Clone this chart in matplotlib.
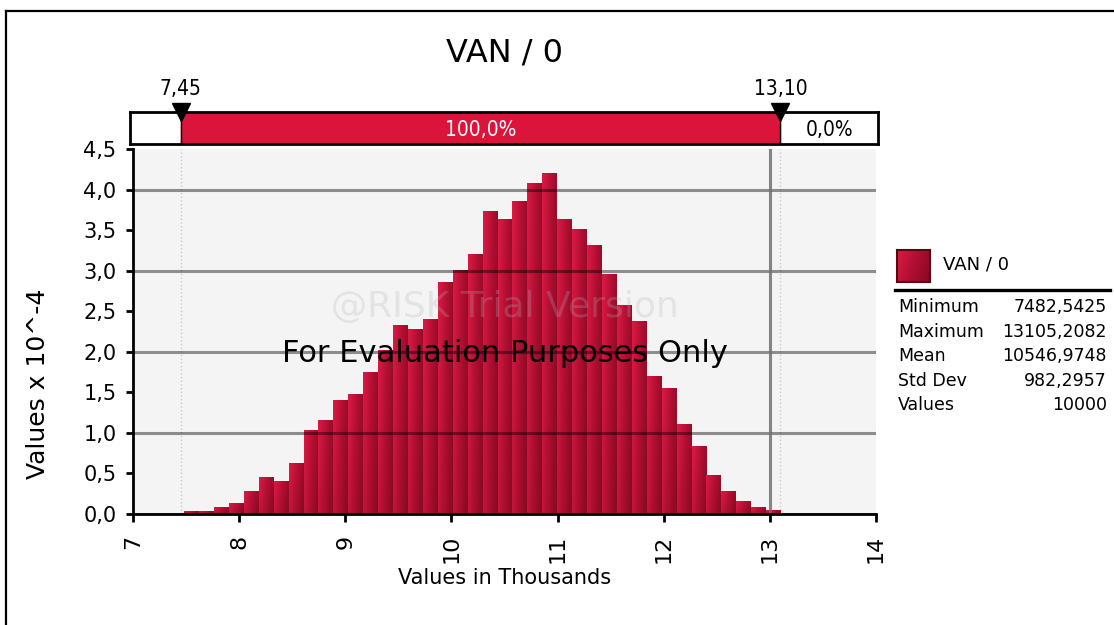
import numpy as np
import matplotlib
matplotlib.use('Agg')
import matplotlib.pyplot as plt
from matplotlib.lines import Line2D
from matplotlib.colors import LinearSegmentedColormap
from matplotlib import font_manager

# simulation summary, values in thousands
sim_min = 7.4825425
sim_max = 13.1052082
n_bins = 40
# bar heights, x 10^-4
density = [0.037, 0.037, 0.090, 0.139, 0.282, 0.454, 0.405, 0.626, 1.031, 1.153,
           1.411, 1.485, 1.755, 2.020, 2.331, 2.282, 2.405, 2.859, 3.006, 3.202,
           3.730, 3.632, 3.853, 4.086, 4.209, 3.632, 3.509, 3.313, 2.957, 2.577,
           2.380, 1.706, 1.558, 1.104, 0.834, 0.479, 0.282, 0.160, 0.086, 0.049]

left_cut = 7.45
right_cut = 13.10
mid_pct = '100,0%'
right_pct = '0,0%'
ref_line = 13.0

x_ticks = [7, 8, 9, 10, 11, 12, 13, 14]
y_ticks = [0, 0.5, 1.0, 1.5, 2.0, 2.5, 3.0, 3.5, 4.0, 4.5]

stat_names = ['Minimum', 'Maximum', 'Mean', 'Std Dev', 'Values']
stat_values = ['7482,5425', '13105,2082', '10546,9748', '982,2957', '10000']

W, H = 1114, 625

names = {f.name for f in font_manager.fontManager.ttflist}
narrow = 'Liberation Sans Narrow' if 'Liberation Sans Narrow' in names else 'DejaVu Sans'

red_cmap = LinearSegmentedColormap.from_list('bars', ['#dc1a44', '#b00f32', '#860a22'])
u, v = np.meshgrid(np.linspace(0, 1, 24), np.linspace(0, 1, 24))
grad = 0.75 * u + 0.25 * (1 - v)


def comma(val, nd):
    return f'{val:.{nd}f}'.replace('.', ',')


fig = plt.figure(figsize=(W / 100, H / 100), dpi=100)
fig.patch.set_facecolor('white')

# main histogram
ax = fig.add_axes([133 / W, 111 / H, 743 / W, 365 / H])
ax.set_facecolor('#f4f4f4')
edges = np.linspace(sim_min, sim_max, n_bins + 1)
bars = ax.bar(edges[:-1], density, width=np.diff(edges), align='edge',
              color='none', edgecolor='none', zorder=2)
for b, h in zip(bars, density):
    x0 = b.get_x()
    im = ax.imshow(grad, cmap=red_cmap, origin='lower', aspect='auto',
                   extent=[x0, x0 + b.get_width(), 0, h], zorder=2, vmin=0, vmax=1)
    im.set_clip_path(b)

for y in [0, 1, 2, 3, 4]:
    ax.axhline(y, color='black', alpha=0.42, lw=2.2, zorder=4)
ax.axvline(ref_line, color='#707070', alpha=0.85, lw=2.2, zorder=4)
for c in [left_cut, right_cut]:
    ax.axvline(c, color='#c8c8c8', lw=1, ls=':', zorder=1)

ax.set_xlim(7, 14)
ax.set_ylim(0, 4.5)
ax.set_xticks(x_ticks)
ax.set_xticklabels([str(t) for t in x_ticks], rotation=90, fontsize=16)
ax.set_yticks(y_ticks)
ax.set_yticklabels([comma(t, 1) for t in y_ticks], fontsize=15)
ax.tick_params(axis='x', direction='out', length=6, width=2, pad=9)
ax.tick_params(axis='y', direction='out', length=5, width=2, pad=7)
for s in ['top', 'right']:
    ax.spines[s].set_visible(False)
for s in ['left', 'bottom']:
    ax.spines[s].set_linewidth(2)
    ax.spines[s].set_zorder(6)

ax.set_xlabel('Values in Thousands', fontsize=15)
ax.xaxis.set_label_coords(0.5, -0.175)
ax.xaxis.label.set_va('center')
ax.set_ylabel('Values x 10^-4', fontsize=18)
ax.yaxis.set_label_coords(-0.128, 0.358)
ax.yaxis.label.set_va('center')

ax.text(0.5, 0.567, '@RISK Trial Version', transform=ax.transAxes, fontsize=26,
        color='#b4b4b4', alpha=0.25, ha='center', va='center', zorder=7)
ax.text(0.5, 0.441, 'For Evaluation Purposes Only', transform=ax.transAxes,
        fontsize=22, color='black', ha='center', va='center', zorder=8)

# delimiter bar on top
bax = fig.add_axes([130 / W, 481 / H, 748 / W, 32 / H])
bx0, bx1 = 6.9717, 14.019
bax.set_xlim(bx0, bx1)
bax.set_ylim(0, 1)
bax.set_xticks([])
bax.set_yticks([])
bax.axvspan(left_cut, right_cut, color='#dc143c')
for c in [left_cut, right_cut]:
    bax.axvline(c, color='black', lw=1)
for s in bax.spines.values():
    s.set_linewidth(2)
bax.text((left_cut + right_cut) / 2, 0.45, mid_pct, color='white', fontsize=15,
         family=narrow, stretch='condensed', ha='center', va='center')
bax.text((right_cut + bx1) / 2, 0.45, right_pct, color='black', fontsize=15,
         family=narrow, stretch='condensed', ha='center', va='center')
bax.plot([left_cut, right_cut], [1, 1], ls='none', marker='v', ms=13,
         color='black', clip_on=False, zorder=5)
for c in [left_cut, right_cut]:
    bax.text(c, 1.72, comma(c, 2), fontsize=15, family=narrow, stretch='condensed',
             ha='center', va='center')

fig.text(505 / W, 1 - 53 / H, 'VAN / 0', fontsize=23, ha='center', va='center')

# legend
lax = fig.add_axes([897 / W, 1 - 282 / H, 33 / W, 32 / H])
lax.imshow(grad, cmap=red_cmap, origin='lower', aspect='auto', vmin=0, vmax=1)
lax.set_xticks([])
lax.set_yticks([])
for s in lax.spines.values():
    s.set_color('#5a0414')
    s.set_linewidth(1.5)
fig.text(943 / W, 1 - 265 / H, 'VAN / 0', fontsize=13, ha='left', va='center')
fig.add_artist(Line2D([895 / W, 1110 / W], [1 - 290 / H] * 2, color='black', lw=2.4))
for i, (n, val) in enumerate(zip(stat_names, stat_values)):
    yy = 1 - (307 + i * 24.6) / H
    fig.text(898 / W, yy, n, fontsize=12.5, ha='left', va='center')
    fig.text(1107 / W, yy, val, fontsize=12.5, ha='right', va='center')

# outer frame
fig.add_artist(Line2D([5.5 / W, 1], [1 - 10.5 / H] * 2, color='black', lw=1.6))
fig.add_artist(Line2D([5.5 / W] * 2, [0, 1 - 10.5 / H], color='black', lw=1.6))

fig.savefig('out.png', dpi=100)
